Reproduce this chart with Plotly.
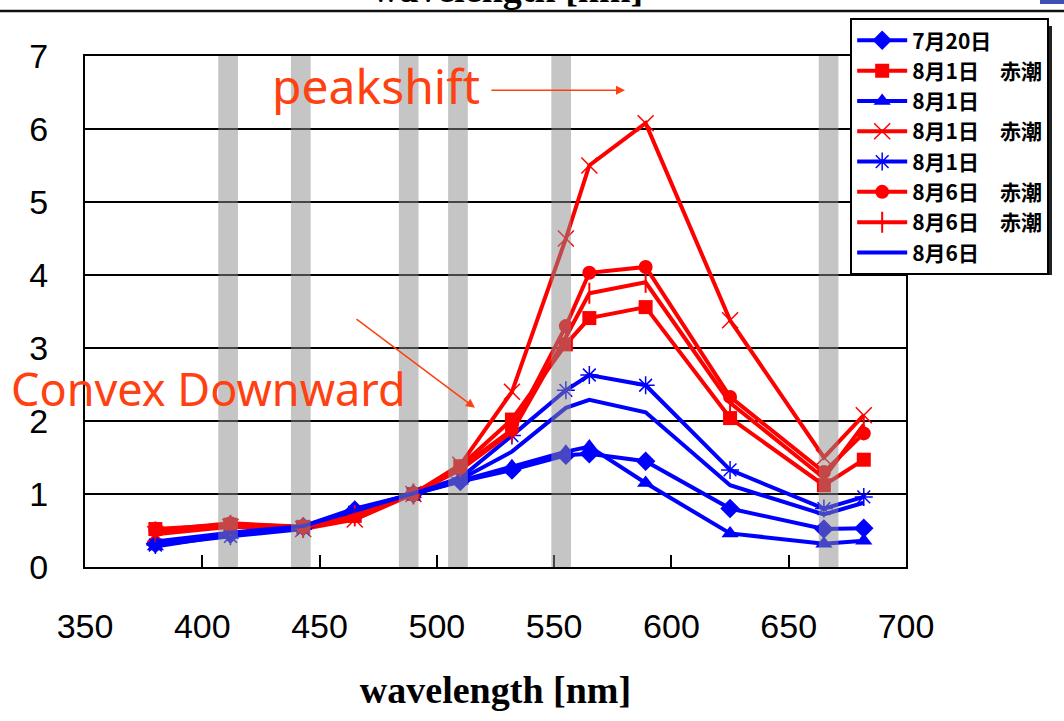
import plotly.graph_objects as go

# ---------------- data ----------------
wavelengths = [380, 412, 443, 465, 490, 510, 532, 555, 565, 589, 625, 665, 682]

s_0720       = [0.32, 0.45, 0.55, 0.78, 1.0, 1.17, 1.33, 1.53, 1.55, 1.45, 0.80, 0.52, 0.53]
s_0801_red_a = [0.52, 0.58, 0.55, 0.70, 1.0, 1.38, 2.02, 3.05, 3.41, 3.56, 2.04, 1.12, 1.47]
s_0801_a     = [0.28, 0.44, 0.56, 0.80, 1.0, 1.18, 1.38, 1.58, 1.65, 1.15, 0.46, 0.32, 0.36]
s_0801_red_b = [0.45, 0.55, 0.52, 0.65, 1.0, 1.40, 2.40, 4.50, 5.50, 6.08, 3.38, 1.50, 2.08]
s_0801_b     = [0.30, 0.42, 0.52, 0.75, 1.0, 1.22, 1.80, 2.42, 2.63, 2.49, 1.33, 0.80, 0.96]
s_0806_red_a = [0.50, 0.60, 0.55, 0.70, 1.0, 1.36, 1.88, 3.30, 4.03, 4.11, 2.33, 1.30, 1.83]
s_0806_red_b = [0.48, 0.57, 0.54, 0.70, 1.0, 1.33, 1.85, 3.15, 3.75, 3.90, 2.25, 1.22, 1.95]
s_0806       = [0.35, 0.47, 0.56, 0.77, 1.0, 1.20, 1.58, 2.18, 2.29, 2.12, 1.12, 0.72, 0.88]

series_names = ["7月20日", "8月1日　赤潮", "8月1日", "8月1日　赤潮",
                "8月1日", "8月6日　赤潮", "8月6日　赤潮", "8月6日"]
series_values = [s_0720, s_0801_red_a, s_0801_a, s_0801_red_b,
                 s_0801_b, s_0806_red_a, s_0806_red_b, s_0806]

# satellite band centres (nm) shown as grey hatched strips
band_centers = [411, 442, 488, 509, 553, 667]
band_halfwidth = 4.2

x_ticks = [350, 400, 450, 500, 550, 600, 650, 700]
y_ticks = [0, 1, 2, 3, 4, 5, 6, 7]

# ---------------- styles ----------------
BLUE = "#0000FF"
RED = "#FF0000"
ORANGE = "#FF4010"
styles = [
    dict(color=BLUE, symbol="diamond", size=15, lw=0),
    dict(color=RED, symbol="square", size=14, lw=0),
    dict(color=BLUE, symbol="triangle-up", size=15, lw=0),
    dict(color=RED, symbol="x-thin-open", size=16, lw=1.5),
    dict(color=BLUE, symbol="asterisk-open", size=15, lw=1.5),
    dict(color=RED, symbol="circle", size=14, lw=0),
    dict(color=RED, symbol="line-ns-open", size=15, lw=2),
    dict(color=BLUE, symbol=None, size=0, lw=0),
]

fig = go.Figure()
for i, (name, vals, st) in enumerate(zip(series_names, series_values, styles)):
    if st["symbol"] is None:
        fig.add_trace(go.Scatter(
            x=wavelengths, y=vals, name=name, mode="lines",
            line=dict(color=st["color"], width=4),
        ))
    else:
        fig.add_trace(go.Scatter(
            x=wavelengths, y=vals, name=name, mode="lines+markers",
            line=dict(color=st["color"], width=4),
            marker=dict(symbol=st["symbol"], size=st["size"], color=st["color"],
                        line=dict(color=st["color"], width=st["lw"])),
        ))

PW, PH, ML, MT = 821.0, 511.0, 85.0, 56.0


def px_x(p):
    return (p - ML) / PW


def px_y(p):
    return (MT + PH - p) / PH


shapes = []
for c in band_centers:
    shapes.append(dict(type="rect", xref="x", yref="paper",
                       x0=c - band_halfwidth, x1=c + band_halfwidth, y0=0, y1=1,
                       fillcolor="rgba(140,140,140,0.5)", line=dict(width=0),
                       layer="above"))
# top rule of the page (cut-off previous figure)
shapes.append(dict(type="line", xref="paper", yref="paper",
                   x0=px_x(0), x1=px_x(1064), y0=px_y(11), y1=px_y(11),
                   line=dict(color="#111111", width=2.5)))
shapes.append(dict(type="rect", xref="paper", yref="paper",
                   x0=px_x(1040), x1=px_x(1064), y0=px_y(4), y1=px_y(0),
                   fillcolor="#4050B0", line=dict(width=0)))
# legend drop shadow
shapes.append(dict(type="rect", xref="paper", yref="paper",
                   x0=px_x(860), x1=px_x(1052), y0=px_y(275), y1=px_y(26),
                   fillcolor="#222222", line=dict(width=0), layer="above"))
fig.update_layout(shapes=shapes)

annotations = [
    dict(text="peakshift", xref="x", yref="y", x=429, y=6.6,
         xanchor="left", yanchor="middle", showarrow=False,
         font=dict(family="Noto Sans", size=48, color=ORANGE)),
    dict(text="", xref="x", yref="y", axref="x", ayref="y",
         x=580.2, y=6.53, ax=522.6, ay=6.53, showarrow=True,
         arrowhead=2, arrowsize=1.2, arrowwidth=1.5, arrowcolor=ORANGE),
    dict(text="Convex Downward", xref="paper", yref="y", x=-0.092, y=2.45,
         xanchor="left", yanchor="middle", showarrow=False,
         font=dict(family="Noto Sans", size=45, color=ORANGE)),
    dict(text="", xref="x", yref="y", axref="x", ayref="y",
         x=516.2, y=2.18, ax=465.1, ay=3.41, showarrow=True,
         arrowhead=2, arrowsize=1.2, arrowwidth=1.5, arrowcolor=ORANGE),
    dict(text="<b>wavelength [nm]</b>", xref="paper", yref="paper",
         x=0.515, y=1.087, xanchor="center", yanchor="bottom", showarrow=False,
         font=dict(family="Liberation Serif", size=38, color="black")),
]
fig.update_layout(annotations=annotations)

fig.update_xaxes(
    range=[350, 700], tickvals=x_ticks, ticktext=[str(v) for v in x_ticks],
    showgrid=False, zeroline=False,
    showline=True, linecolor="black", linewidth=2, mirror=True,
    ticks="inside", ticklen=12, tickwidth=1.5, tickcolor="black",
    ticklabelstandoff=28,
    tickfont=dict(family="Liberation Sans", size=34, color="black"),
    title=dict(text="<b>wavelength [nm]</b>", standoff=33,
               font=dict(family="Liberation Serif", size=38, color="black")),
)
fig.update_yaxes(
    range=[0, 7], tickvals=y_ticks, ticktext=[str(v) for v in y_ticks],
    showgrid=True, gridcolor="black", gridwidth=1.5, zeroline=False,
    showline=True, linecolor="black", linewidth=2, mirror=True,
    ticks="", ticklabelstandoff=28,
    tickfont=dict(family="Liberation Sans", size=34, color="black"),
)

fig.update_layout(
    width=1064, height=721,
    margin=dict(l=85, r=158, t=56, b=154, autoexpand=False),
    paper_bgcolor="white", plot_bgcolor="white",
    showlegend=True,
    legend=dict(
        x=0.932, y=1.074, xanchor="left", yanchor="top",
        bgcolor="white", bordercolor="black", borderwidth=2,
        traceorder="normal",
        font=dict(family="Noto Sans CJK JP", size=21, color="black", weight="bold"),
        itemwidth=50,
    ),
)

fig.write_html("out.html", config={"displayModeBar": False},
               post_script="document.body.style.margin='0';document.body.style.padding='0';")
